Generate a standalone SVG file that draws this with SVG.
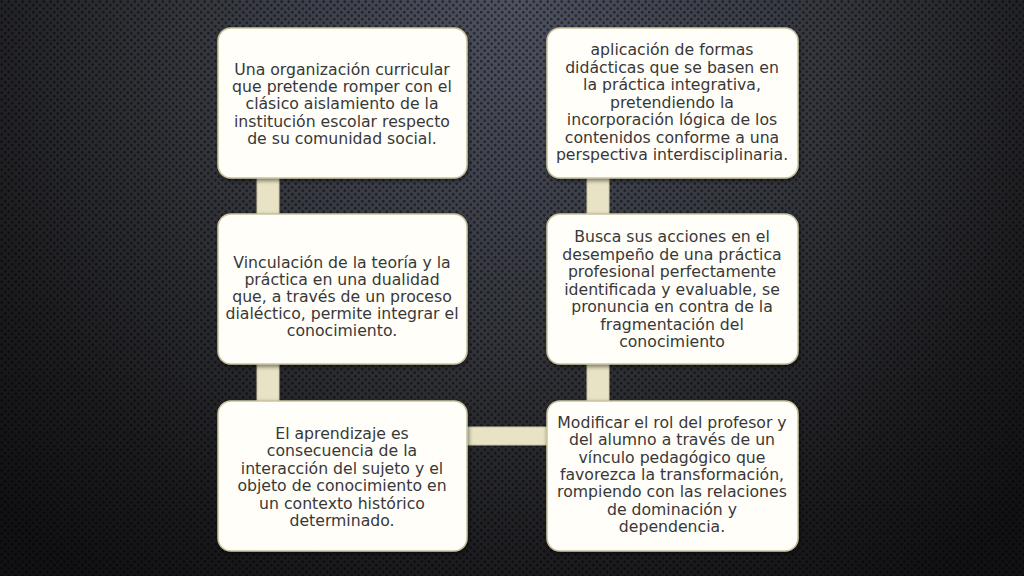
<svg xmlns="http://www.w3.org/2000/svg" width="1024" height="576" viewBox="0 0 1024 576">
  <defs>
    <radialGradient id="bg" cx="512" cy="0" r="720" gradientUnits="userSpaceOnUse">
      <stop offset="0" stop-color="#4e5261"/>
      <stop offset="0.45" stop-color="#34363d"/>
      <stop offset="0.8" stop-color="#1b1b1e"/>
      <stop offset="1" stop-color="#111113"/>
    </radialGradient>
    <pattern id="dots" width="7" height="7" patternUnits="userSpaceOnUse">
      <circle cx="1.75" cy="1.75" r="1.4" fill="#000" fill-opacity="0.45"/>
      <circle cx="5.25" cy="5.25" r="1.4" fill="#000" fill-opacity="0.45"/>
    </pattern>
    <filter id="sh" x="-10%" y="-10%" width="120%" height="120%">
      <feDropShadow dx="1" dy="2" stdDeviation="2" flood-color="#000" flood-opacity="0.5"/>
    </filter>
  </defs>
  <style>
    .box { fill: #fffef9; stroke: #c8c29c; stroke-width: 1.5; filter: url(#sh); }
    .conn { fill: #e9e3c6; stroke: #cdc6a0; stroke-width: 1; }
    .t { font-family: "DejaVu Sans", "Liberation Sans", sans-serif; font-size: 15.7px; fill: #383838; text-anchor: middle; }
  </style>
  <rect width="1024" height="576" fill="url(#bg)"/>
  <rect width="1024" height="576" fill="url(#dots)"/>

  <g id="connectors">
    <rect class="conn" x="257" y="176" width="22" height="40"/>
    <rect class="conn" x="257" y="362" width="22" height="41"/>
    <rect class="conn" x="587" y="176" width="22" height="40"/>
    <rect class="conn" x="587" y="362" width="22" height="41"/>
    <rect class="conn" x="465" y="427" width="84" height="18"/>
  </g>

  <g id="node1">
    <rect class="box" x="218" y="28" width="249" height="150" rx="13"/>
    <text class="t" x="342" y="75">Una organización curricular</text>
    <text class="t" x="342" y="92.2">que pretende romper con el</text>
    <text class="t" x="342" y="109.4">clásico aislamiento de la</text>
    <text class="t" x="342" y="126.6">institución escolar respecto</text>
    <text class="t" x="342" y="143.8">de su comunidad social.</text>
  </g>
  <g id="node2">
    <rect class="box" x="218" y="214" width="249" height="150" rx="13"/>
    <text class="t" x="342" y="268">Vinculación de la teoría y la</text>
    <text class="t" x="342" y="285">práctica en una dualidad</text>
    <text class="t" x="342" y="302">que, a través de un proceso</text>
    <text class="t" x="342" y="319">dialéctico, permite integrar el</text>
    <text class="t" x="342" y="336">conocimiento.</text>
  </g>
  <g id="node3">
    <rect class="box" x="218" y="401" width="249" height="150" rx="13"/>
    <text class="t" x="342" y="439">El aprendizaje es</text>
    <text class="t" x="342" y="456.4">consecuencia de la</text>
    <text class="t" x="342" y="473.8">interacción del sujeto y el</text>
    <text class="t" x="342" y="491.2">objeto de conocimiento en</text>
    <text class="t" x="342" y="508.6">un contexto histórico</text>
    <text class="t" x="342" y="526">determinado.</text>
  </g>
  <g id="node4">
    <rect class="box" x="547" y="28" width="251" height="150" rx="13"/>
    <text class="t" x="672" y="55">aplicación de formas</text>
    <text class="t" x="672" y="72.5">didácticas que se basen en</text>
    <text class="t" x="672" y="90">la práctica integrativa,</text>
    <text class="t" x="672" y="107.5">pretendiendo la</text>
    <text class="t" x="672" y="125">incorporación lógica de los</text>
    <text class="t" x="672" y="142.5">contenidos conforme a una</text>
    <text class="t" x="672" y="160">perspectiva interdisciplinaria.</text>
  </g>
  <g id="node5">
    <rect class="box" x="547" y="214" width="251" height="150" rx="13"/>
    <text class="t" x="672" y="242">Busca sus acciones en el</text>
    <text class="t" x="672" y="259.5">desempeño de una práctica</text>
    <text class="t" x="672" y="277">profesional perfectamente</text>
    <text class="t" x="672" y="294.5">identificada y evaluable, se</text>
    <text class="t" x="672" y="312">pronuncia en contra de la</text>
    <text class="t" x="672" y="329.5">fragmentación del</text>
    <text class="t" x="672" y="347">conocimiento</text>
  </g>
  <g id="node6">
    <rect class="box" x="547" y="401" width="251" height="150" rx="13"/>
    <text class="t" x="672" y="428">Modificar el rol del profesor y</text>
    <text class="t" x="672" y="445.3">del alumno a través de un</text>
    <text class="t" x="672" y="462.6">vínculo pedagógico que</text>
    <text class="t" x="672" y="480">favorezca la transformación,</text>
    <text class="t" x="672" y="497.3">rompiendo con las relaciones</text>
    <text class="t" x="672" y="514.6">de dominación y</text>
    <text class="t" x="672" y="532">dependencia.</text>
  </g>
</svg>
